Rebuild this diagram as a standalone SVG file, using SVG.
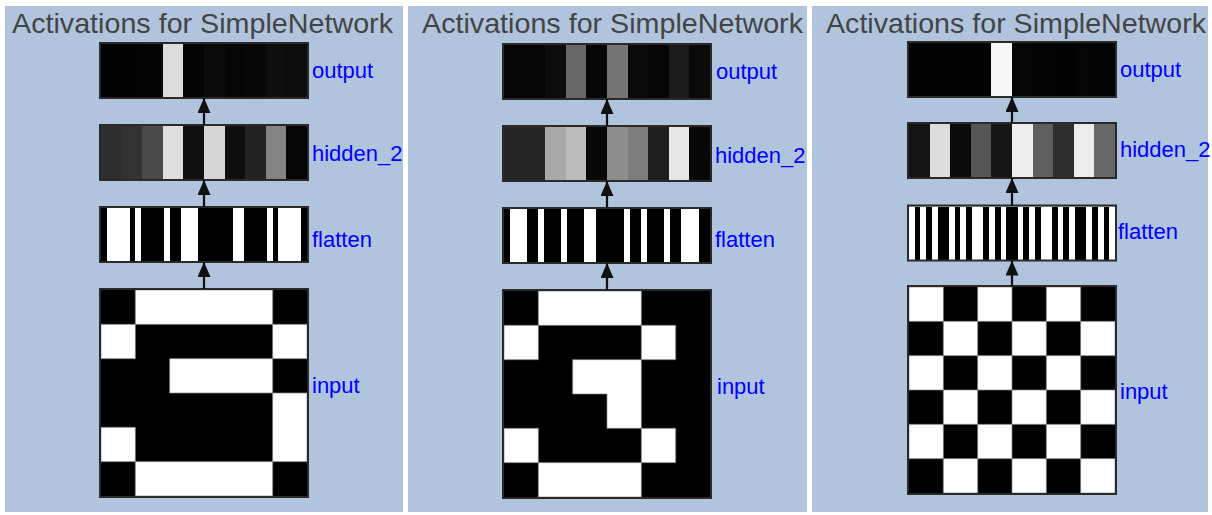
<svg xmlns="http://www.w3.org/2000/svg" width="1212" height="515" viewBox="0 0 1212 515">
<style>
.panel{fill:#b0c4de}
.title{font-family:"Liberation Sans",Arial,sans-serif;font-size:28px;fill:#444}
.lbl{font-family:"Liberation Sans",Arial,sans-serif;font-size:22px;fill:#0000ff}
.frame{fill:none;stroke:#2a2a2a;stroke-width:2}
.cells rect{shape-rendering:crispEdges}
.blk{fill:#000}
.wht{fill:#fff}
.grid .wht{stroke:#888;stroke-width:0.7;vector-effect:non-scaling-stroke}
.conn{stroke:#111;stroke-width:2.2;fill:none;marker-end:url(#ah)}
</style>
<defs>
<marker id="ah" markerUnits="userSpaceOnUse" markerWidth="16" markerHeight="14" refX="15" refY="6.5" orient="auto">
<path d="M0,0 L15,6.5 L0,13 Z" fill="#111"/>
</marker>
</defs>
<rect width="1212" height="515" fill="#fff"/>

<!-- Panel 1 -->
<g id="panel1">
<rect class="panel" x="5" y="6" width="398" height="506"/>
<text class="title" x="12" y="33" textLength="381" lengthAdjust="spacingAndGlyphs">Activations for SimpleNetwork</text>
</g>
<g id="p1-output" transform="translate(100,43)">
<g class="cells" transform="translate(1,1) scale(20.6,53)">
<rect x="0" width="1.02" height="1" fill="#030303"/><rect x="1" width="1.02" height="1" fill="#030303"/><rect x="2" width="1.02" height="1" fill="#040404"/><rect x="3" width="1.02" height="1" fill="#dcdcdc"/><rect x="4" width="1.02" height="1" fill="#040404"/><rect x="5" width="1.02" height="1" fill="#0a0a0a"/><rect x="6" width="1.02" height="1" fill="#050505"/><rect x="7" width="1.02" height="1" fill="#070707"/><rect x="8" width="1.02" height="1" fill="#0e0e0e"/><rect x="9" width="1" height="1" fill="#0c0c0c"/>
</g>
<rect class="frame" width="208" height="55"/>
<text class="lbl" x="212" y="35">output</text>
</g>
<g id="p1-hidden_2" transform="translate(100,125)">
<g class="cells" transform="translate(1,1) scale(20.6,53)">
<rect x="0" width="1.02" height="1" fill="#2e2e2e"/><rect x="1" width="1.02" height="1" fill="#333333"/><rect x="2" width="1.02" height="1" fill="#4a4a4a"/><rect x="3" width="1.02" height="1" fill="#dedede"/><rect x="4" width="1.02" height="1" fill="#101010"/><rect x="5" width="1.02" height="1" fill="#d6d6d6"/><rect x="6" width="1.02" height="1" fill="#0e0e0e"/><rect x="7" width="1.02" height="1" fill="#222222"/><rect x="8" width="1.02" height="1" fill="#838383"/><rect x="9" width="1" height="1" fill="#050505"/>
</g>
<rect class="frame" width="208" height="55"/>
<text class="lbl" x="212" y="36">hidden_2</text>
</g>
<g id="p1-flatten" transform="translate(100,207)">
<g class="cells" transform="translate(1,1) scale(5.7222,53)">
<rect class="blk" width="36" height="1"/>
<rect class="wht" x="1" width="4" height="1"/><rect class="wht" x="6" width="1" height="1"/><rect class="wht" x="11" width="1" height="1"/><rect class="wht" x="14" width="3" height="1"/><rect class="wht" x="23" width="2" height="1"/><rect class="wht" x="29" width="1" height="1"/><rect class="wht" x="31" width="4" height="1"/>
</g>
<rect class="frame" width="208" height="55"/>
<text class="lbl" x="212" y="40">flatten</text>
</g>
<g id="p1-input" transform="translate(100,289)">
<g class="grid" transform="translate(1,1) scale(34.333)">
<rect class="blk" width="6" height="6"/>
<rect class="wht" x="1" y="0" width="4" height="1"/>
<rect class="wht" x="0" y="1" width="1" height="1"/><rect class="wht" x="5" y="1" width="1" height="1"/>
<rect class="wht" x="2" y="2" width="3" height="1"/>
<rect class="wht" x="5" y="3" width="1" height="2"/>
<rect class="wht" x="0" y="4" width="1" height="1"/>
<rect class="wht" x="1" y="5" width="4" height="1"/>
</g>
<rect class="frame" width="208" height="208"/>
<text class="lbl" x="212" y="104">input</text>
</g>

<!-- Panel 2 -->
<g id="panel2">
<rect class="panel" x="408" y="6" width="399" height="506"/>
<text class="title" x="422" y="33" textLength="381" lengthAdjust="spacingAndGlyphs">Activations for SimpleNetwork</text>
</g>
<g id="p2-output" transform="translate(503,44)">
<g class="cells" transform="translate(1,1) scale(20.6,53)">
<rect x="0" width="1.02" height="1" fill="#050505"/><rect x="1" width="1.02" height="1" fill="#050505"/><rect x="2" width="1.02" height="1" fill="#0c0c0c"/><rect x="3" width="1.02" height="1" fill="#676767"/><rect x="4" width="1.02" height="1" fill="#050505"/><rect x="5" width="1.02" height="1" fill="#747474"/><rect x="6" width="1.02" height="1" fill="#090909"/><rect x="7" width="1.02" height="1" fill="#060606"/><rect x="8" width="1.02" height="1" fill="#1a1a1a"/><rect x="9" width="1" height="1" fill="#090909"/>
</g>
<rect class="frame" width="208" height="55"/>
<text class="lbl" x="213" y="35">output</text>
</g>
<g id="p2-hidden_2" transform="translate(503,126)">
<g class="cells" transform="translate(1,1) scale(20.6,53)">
<rect x="0" width="1.02" height="1" fill="#262626"/><rect x="1" width="1.02" height="1" fill="#262626"/><rect x="2" width="1.02" height="1" fill="#a9a9a9"/><rect x="3" width="1.02" height="1" fill="#bcbcbc"/><rect x="4" width="1.02" height="1" fill="#080808"/><rect x="5" width="1.02" height="1" fill="#8d8d8d"/><rect x="6" width="1.02" height="1" fill="#7c7c7c"/><rect x="7" width="1.02" height="1" fill="#1e1e1e"/><rect x="8" width="1.02" height="1" fill="#e6e6e6"/><rect x="9" width="1" height="1" fill="#080808"/>
</g>
<rect class="frame" width="208" height="55"/>
<text class="lbl" x="212" y="37">hidden_2</text>
</g>
<g id="p2-flatten" transform="translate(503,208)">
<g class="cells" transform="translate(1,1) scale(5.7222,53)">
<rect class="blk" width="36" height="1"/>
<rect class="wht" x="1" width="3" height="1"/><rect class="wht" x="6" width="1" height="1"/><rect class="wht" x="10" width="1" height="1"/><rect class="wht" x="14" width="2" height="1"/><rect class="wht" x="21" width="1" height="1"/><rect class="wht" x="24" width="1" height="1"/><rect class="wht" x="28" width="1" height="1"/><rect class="wht" x="31" width="3" height="1"/>
</g>
<rect class="frame" width="208" height="55"/>
<text class="lbl" x="212" y="39">flatten</text>
</g>
<g id="p2-input" transform="translate(503,290)">
<g class="grid" transform="translate(1,1) scale(34.333)">
<rect class="blk" width="6" height="6"/>
<rect class="wht" x="1" y="0" width="3" height="1"/>
<rect class="wht" x="0" y="1" width="1" height="1"/><rect class="wht" x="4" y="1" width="1" height="1"/>
<path class="wht" d="M2,2 H4 V4 H3 V3 H2 Z"/>
<rect class="wht" x="0" y="4" width="1" height="1"/><rect class="wht" x="4" y="4" width="1" height="1"/>
<rect class="wht" x="1" y="5" width="3" height="1"/>
</g>
<rect class="frame" width="208" height="208"/>
<text class="lbl" x="214" y="104">input</text>
</g>

<!-- Panel 3 -->
<g id="panel3">
<rect class="panel" x="812" y="6" width="396" height="506"/>
<text class="title" x="826" y="33" textLength="380" lengthAdjust="spacingAndGlyphs">Activations for SimpleNetwork</text>
</g>
<g id="p3-output" transform="translate(908,42)">
<g class="cells" transform="translate(1,1) scale(20.6,53)">
<rect x="0" width="1.02" height="1" fill="#030303"/><rect x="1" width="1.02" height="1" fill="#030303"/><rect x="2" width="1.02" height="1" fill="#030303"/><rect x="3" width="1.02" height="1" fill="#030303"/><rect x="4" width="1.02" height="1" fill="#f6f6f6"/><rect x="5" width="1.02" height="1" fill="#060606"/><rect x="6" width="1.02" height="1" fill="#040404"/><rect x="7" width="1.02" height="1" fill="#030303"/><rect x="8" width="1.02" height="1" fill="#050505"/><rect x="9" width="1" height="1" fill="#040404"/>
</g>
<rect class="frame" width="208" height="55"/>
<text class="lbl" x="212" y="35">output</text>
</g>
<g id="p3-hidden_2" transform="translate(908,123)">
<g class="cells" transform="translate(1,1) scale(20.6,53)">
<rect x="0" width="1.02" height="1" fill="#141414"/><rect x="1" width="1.02" height="1" fill="#dcdcdc"/><rect x="2" width="1.02" height="1" fill="#0b0b0b"/><rect x="3" width="1.02" height="1" fill="#565656"/><rect x="4" width="1.02" height="1" fill="#161616"/><rect x="5" width="1.02" height="1" fill="#eeeeee"/><rect x="6" width="1.02" height="1" fill="#5e5e5e"/><rect x="7" width="1.02" height="1" fill="#2e2e2e"/><rect x="8" width="1.02" height="1" fill="#ececec"/><rect x="9" width="1" height="1" fill="#686868"/>
</g>
<rect class="frame" width="208" height="55"/>
<text class="lbl" x="212" y="34">hidden_2</text>
</g>
<g id="p3-flatten" transform="translate(908,205.5)">
<g class="cells" transform="translate(1,1) scale(5.7222,53)">
<rect class="blk" width="36" height="1"/>
<rect class="wht" x="0" width="1" height="1"/><rect class="wht" x="2" width="1" height="1"/><rect class="wht" x="4" width="1" height="1"/><rect class="wht" x="7" width="1" height="1"/><rect class="wht" x="9" width="1" height="1"/><rect class="wht" x="11" width="2" height="1"/><rect class="wht" x="14" width="1" height="1"/><rect class="wht" x="16" width="1" height="1"/><rect class="wht" x="19" width="1" height="1"/><rect class="wht" x="21" width="1" height="1"/><rect class="wht" x="23" width="2" height="1"/><rect class="wht" x="26" width="1" height="1"/><rect class="wht" x="28" width="1" height="1"/><rect class="wht" x="31" width="1" height="1"/><rect class="wht" x="33" width="1" height="1"/><rect class="wht" x="35" width="1" height="1"/>
</g>
<rect class="frame" width="208" height="55"/>
<text class="lbl" x="210" y="33">flatten</text>
</g>
<g id="p3-input" transform="translate(908,286)">
<g class="grid" transform="translate(1,1) scale(34.333)">
<rect class="blk" width="6" height="6"/>
<rect class="wht" x="0" y="0" width="1" height="1"/><rect class="wht" x="2" y="0" width="1" height="1"/><rect class="wht" x="4" y="0" width="1" height="1"/>
<rect class="wht" x="1" y="1" width="1" height="1"/><rect class="wht" x="3" y="1" width="1" height="1"/><rect class="wht" x="5" y="1" width="1" height="1"/>
<rect class="wht" x="0" y="2" width="1" height="1"/><rect class="wht" x="2" y="2" width="1" height="1"/><rect class="wht" x="4" y="2" width="1" height="1"/>
<rect class="wht" x="1" y="3" width="1" height="1"/><rect class="wht" x="3" y="3" width="1" height="1"/><rect class="wht" x="5" y="3" width="1" height="1"/>
<rect class="wht" x="0" y="4" width="1" height="1"/><rect class="wht" x="2" y="4" width="1" height="1"/><rect class="wht" x="4" y="4" width="1" height="1"/>
<rect class="wht" x="1" y="5" width="1" height="1"/><rect class="wht" x="3" y="5" width="1" height="1"/><rect class="wht" x="5" y="5" width="1" height="1"/>
</g>
<rect class="frame" width="208" height="208"/>
<text class="lbl" x="212" y="113">input</text>
</g>

<g id="connectors">
<line class="conn" x1="204" y1="289" x2="204" y2="262"/>
<line class="conn" x1="204" y1="207" x2="204" y2="180"/>
<line class="conn" x1="204" y1="125" x2="204" y2="98"/>
<line class="conn" x1="607" y1="290" x2="607" y2="263"/>
<line class="conn" x1="607" y1="208" x2="607" y2="181"/>
<line class="conn" x1="607" y1="126" x2="607" y2="99"/>
<line class="conn" x1="1012" y1="286" x2="1012" y2="260.5"/>
<line class="conn" x1="1012" y1="205.5" x2="1012" y2="178"/>
<line class="conn" x1="1012" y1="123" x2="1012" y2="97"/>
</g>
</svg>
